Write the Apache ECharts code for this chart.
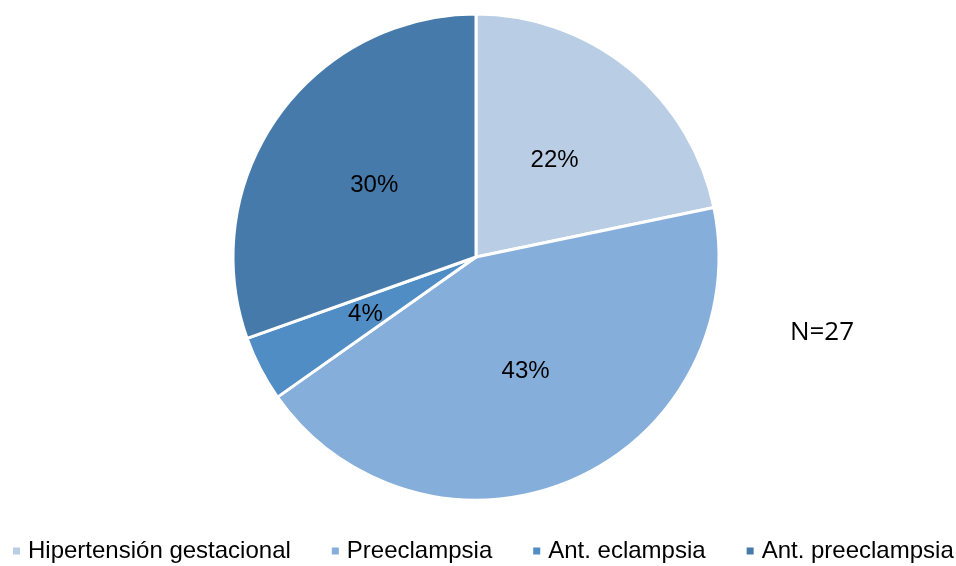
<!DOCTYPE html>
<html><head><meta charset="utf-8">
<script src="https://cdn.jsdelivr.net/npm/echarts@6/dist/echarts.min.js"></script>
<style>html,body{margin:0;padding:0;background:#fff}#c{width:956px;height:566px}</style>
</head><body><div id="c"></div>
<script>
const categories = ["Hipertensión gestacional", "Preeclampsia", "Ant. eclampsia", "Ant. preeclampsia"];
const counts = [5, 10, 1, 7];
const colors = ["#B9CDE5", "#86AEDB", "#508DC5", "#467AAA"];
const note = "N=27";

const chart = echarts.init(document.getElementById('c'), null, {renderer: 'canvas'});
chart.setOption({
  animation: false,
  backgroundColor: '#fff',
  color: colors,
  graphic: [{
    type: 'text', x: 822, y: 333,
    style: {text: note, font: '26px "Open Sans", "Liberation Sans", sans-serif', fill: '#000',
            textAlign: 'center', textVerticalAlign: 'middle'}
  }],
  legend: {
    top: 539, left: 11, padding: 0,
    itemWidth: 9, itemHeight: 9, itemGap: 39,
    icon: 'rect',
    textStyle: {fontFamily: '"Liberation Sans", Arial, sans-serif', fontSize: 24, lineHeight: 24, color: '#000', padding: [0,0,0,2]},
    data: categories
  },
  series: [{
    type: 'pie',
    center: [476, 257],
    radius: [0, 243],
    startAngle: 90,
    clockwise: true,
    itemStyle: {borderColor: '#fff', borderWidth: 3},
    label: {
      position: 'inside',
      formatter: p => Math.round(p.percent) + '%',
      fontFamily: '"Liberation Sans", Arial, sans-serif',
      fontSize: 24, color: '#000'
    },
    labelLine: {show: false},
    emphasis: {disabled: true},
    data: categories.map((n, i) => ({name: n, value: counts[i]}))
  }]
});
</script></body></html>
